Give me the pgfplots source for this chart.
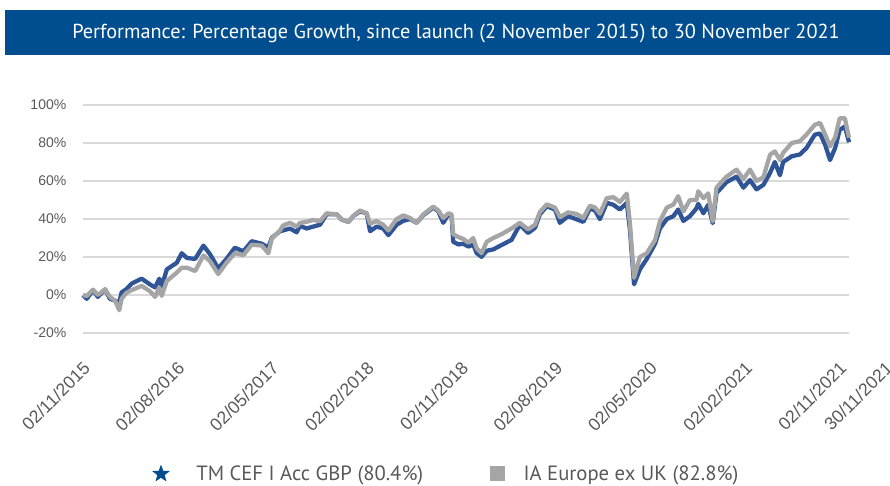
\documentclass[border=0pt]{standalone}
\usepackage{fontspec}
\setmainfont{Liberation Sans}
\newfontfamily\titlefont{PT Sans}
\usepackage{pgfplots}
\usepackage{pgfplotstable}
\pgfplotsset{compat=1.18}
\usetikzlibrary{shapes.geometric}
\definecolor{titleblue}{HTML}{004E8F}
\definecolor{fundblue}{HTML}{2F5597}
\definecolor{sectorgray}{HTML}{A5A5A5}
\definecolor{gridgray}{HTML}{D9D9D9}
\definecolor{labelgray}{HTML}{595959}

% day = days since 02/11/2015; fund = TM CEF I Acc GBP; sector = IA Europe ex UK
\pgfplotstableread{
day fund sector
0 0 0
11 -2 -0.5
29 2.5 2.8
43 -1 0
64 3 3
78 -2 -1
93 -3 -3
105 -4 -8
112 1.4 -2
125 3 1
141 6 2.6
170 8.6 4.8
194 5.6 2
209 4 -1
221 8.6 4
228 4.5 -0.5
243 13.5 7.4
272 17 11.8
286 22 14.4
301 19.5 14.4
325 19 12.6
349 26 20.8
368 21.5 17.8
392 14 11
416 19 17
440 24.9 22
465 23 21
489 28.3 26.5
518 27 26
537 25 22
547 30 29.5
571 33.6 34
580 34 36.6
600 35 38
619 33 36
629 36.4 38
648 35 38.5
667 36 39.5
687 37 38.9
706 42.5 43
735 42.5 42.5
750 39.7 39.7
769 38.5 38.5
783 41.5 41.5
803 44 44.5
822 43 43
832 33.6 37.6
851 36 38.9
870 35 37
885 31.5 34
909 37 40
928 39 41.9
948 40 40.5
967 38 38
986 42 42.4
1015 46 46.5
1030 44 44.5
1044 38 40.5
1059 42.5 43
1068 42 42.5
1073 28 32
1088 26.6 30.5
1102 27 29.5
1117 25.5 27.5
1131 26.5 30
1141 22 24.5
1155 20.1 22
1170 23.3 28
1189 24 30
1213 26.3 32
1242 29 35
1266 37 38
1290 32.6 34.5
1310 35.4 37
1324 42.4 43.6
1344 46.7 47.7
1368 45 46
1382 38 41
1406 41.5 43.5
1431 39.8 42.6
1450 38.5 40.5
1469 45.5 47
1484 44.5 46
1498 39.9 42.8
1518 48.5 51
1537 47.5 51.5
1556 45 49
1576 48.5 53.4
1585 34.5 38
1597 5.6 9
1614 13.5 20
1634 19 22
1658 27 29
1672 35 38.8
1692 40 46
1711 41.5 47.6
1725 45 52
1740 39 44
1759 41.5 50
1778 45.6 50
1783 48 54.6
1798 43 51
1812 47.5 53.5
1825 37.8 38.7
1836 53.7 56.5
1865 59.4 62.3
1894 62.3 66
1914 56.5 61
1933 60.5 66
1952 55.6 60
1972 58 62
1991 64.2 73.8
2005 70 75.6
2020 63 71
2029 70 74.8
2054 73 80
2078 74 81
2097 77.4 84.5
2121 84.4 89.6
2136 85 90.6
2151 79 84.5
2165 71 78.2
2180 77.5 83
2193 86.9 93
2208 88.7 93
2220 80.4 82.8
}\perfdata

\begin{document}
\begin{tikzpicture}
\path[use as bounding box] (0,0) rectangle (667.5pt,-364.5pt);
\fill[titleblue] (3.75pt,-7.5pt) rectangle (667.5pt,-41.25pt);
\node[text=white, font=\titlefont\fontsize{15.2pt}{18pt}\selectfont] at (342pt,-24.8pt)
  {Performance: Percentage Growth, since launch (2 November 2015) to 30 November 2021};
\begin{axis}[
  at={(62.25pt,-249.75pt)}, anchor=south west,
  scale only axis, width=574.5pt, height=171pt,
  xmin=0, xmax=2220, ymin=-20, ymax=100,
  axis line style={draw=none},
  tick style={draw=none},
  ymajorgrids, grid style={gridgray, line width=1.1pt},
  clip=false,
  xtick={0,274,547,823,1096,1369,1643,1919,2192},
  xticklabels={02/11/2015,02/08/2016,02/05/2017,02/02/2018,02/11/2018,02/08/2019,02/05/2020,02/02/2021,02/11/2021},
  extra x ticks={2220},
  extra x tick labels={30/11/2021},
  extra x tick style={xticklabel style={xshift=19.3pt, yshift=-19.3pt}},
  xticklabel style={rotate=45, anchor=north east, inner sep=1pt, xshift=-14pt, yshift=-13pt,
     font=\fontsize{13.3pt}{15pt}\selectfont, text=labelgray},
  ytick={-20,0,20,40,60,80,100},
  yticklabels={-20\%,0\%,20\%,40\%,60\%,80\%,100\%},
  yticklabel style={font=\fontsize{10.5pt}{12pt}\selectfont, text=labelgray, xshift=-9pt},
  legend columns=2,
  legend style={at={(0.4746,-0.618)}, anchor=center, draw=none, fill=none,
     font=\titlefont\fontsize{15.5pt}{18pt}\selectfont, text=labelgray,
     /tikz/every even column/.append style={column sep=48pt}},
]
\addplot[fundblue, line width=3.2pt, line join=round,
  legend image code/.code={\path[draw=none] (0,0) -- (0.86cm,0);
     \node[star, star points=5, star point ratio=2.4, fill=titleblue,
     draw=none, inner sep=0pt, minimum size=14pt] at (0cm,0cm) {};}]
  table[x=day, y=fund] {\perfdata};
\addlegendentry{TM CEF I Acc GBP (80.4\%)}
\addplot[sectorgray, line width=3.2pt, line join=round,
  legend image code/.code={\path[draw=none] (0,0) -- (0.62cm,0);
     \fill[sectorgray, draw=none] (-5.6pt,-5.6pt) rectangle (5.6pt,5.6pt);}]
  table[x=day, y=sector] {\perfdata};
\addlegendentry{IA Europe ex UK (82.8\%)}
\end{axis}
\end{tikzpicture}
\end{document}
